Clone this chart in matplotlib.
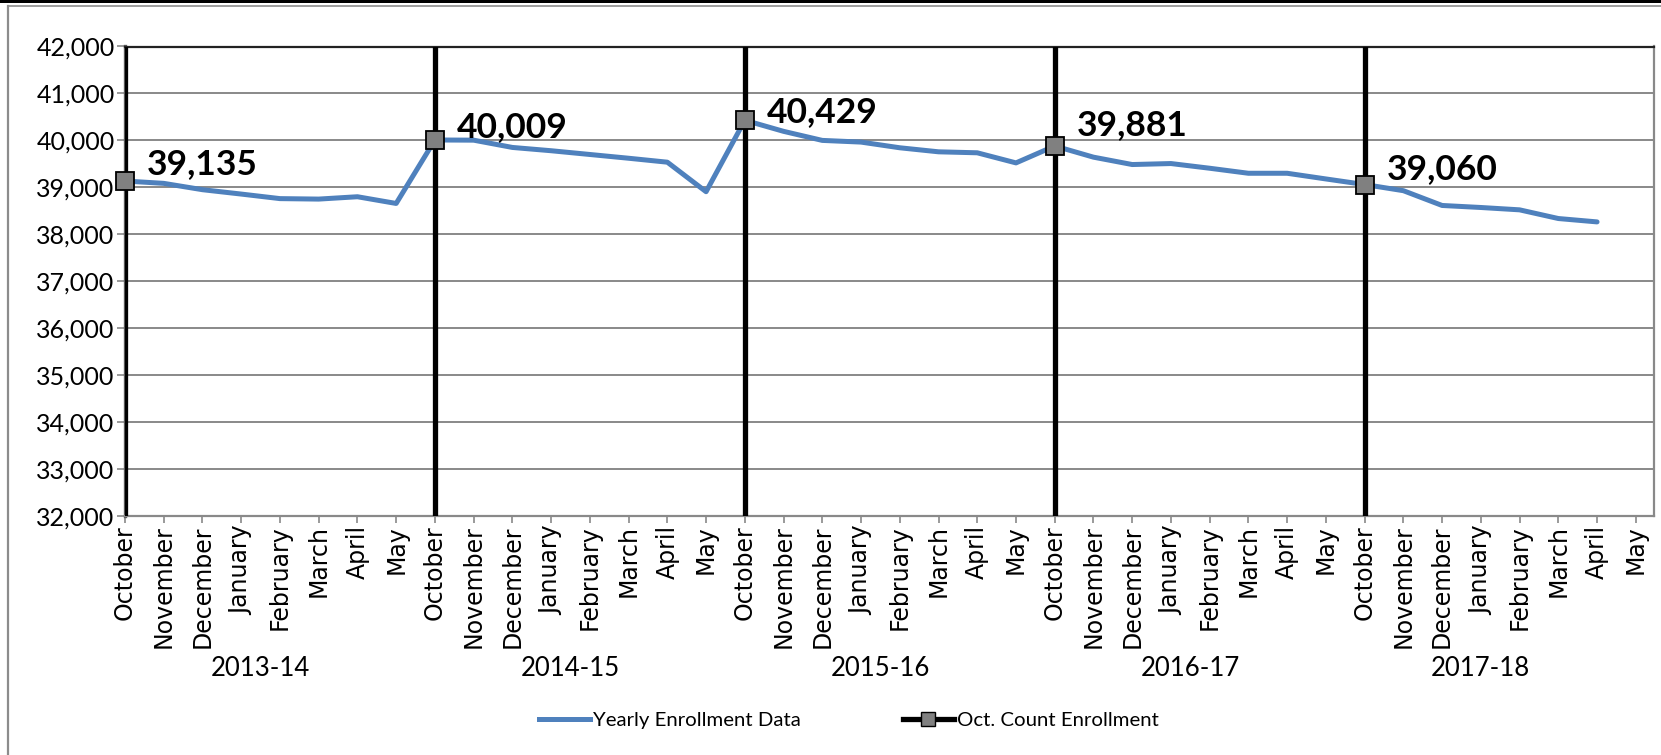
import numpy as np
import matplotlib
matplotlib.use("Agg")
import matplotlib.pyplot as plt
from matplotlib.lines import Line2D
from matplotlib.patches import Rectangle

# ---- data ----
month_names = ["October", "November", "December", "January",
               "February", "March", "April", "May"]
school_years = ["2013-14", "2014-15", "2015-16", "2016-17", "2017-18"]
# months per school-year group on the axis (the last May has no group label)
group_sizes = [8, 8, 8, 8, 7]

yearly_enrollment = [
    39135, 39085, 38950, 38857, 38760, 38750, 38800, 38657,
    40009, 40005, 39850, 39780, 39700, 39620, 39536, 38907,
    40429, 40193, 40000, 39964, 39843, 39757, 39736, 39521,
    39881, 39643, 39486, 39507, 39407, 39300, 39300, 39179,
    39060, 38929, 38614, 38571, 38521, 38336, 38264, np.nan,
]
oct_count = [39135, 40009, 40429, 39881, 39060]

# vertical nudges of the data labels (points), as placed in the original
label_dy = [12, 9, 6, 15, 11]

categories = month_names * len(school_years)
x = np.arange(len(categories))
oct_idx = [i for i, m in enumerate(categories) if m == "October"]

BLUE = "#4F81BD"
GRID = "#898989"
CAL = ["Lato", "DejaVu Sans"]

fig = plt.figure(figsize=(16.61, 7.55), dpi=100)
ax = fig.add_axes([125 / 1661, 239 / 755, 1529 / 1661, 469.5 / 755])

ax.set_ylim(32000, 42000)
ax.set_xlim(0, 39.47)
ax.set_yticks(np.arange(32000, 42001, 1000))
ax.yaxis.grid(True, color=GRID, linewidth=1.4)
ax.set_axisbelow(True)

ax.plot(x, yearly_enrollment, color=BLUE, linewidth=3.6, zorder=3,
        solid_joinstyle="round", solid_capstyle="round")

# October count: heavy vertical rule at each October plus a square marker
ax.vlines(oct_idx, 32000, 42000, color="black", linewidth=3.8, zorder=4)
ax.plot(oct_idx, oct_count, linestyle="none", marker="s", markersize=13,
        markerfacecolor="#808080", markeredgecolor="black",
        markeredgewidth=1.3, zorder=5, clip_on=False)

for xi, v, dy in zip(oct_idx, oct_count, label_dy):
    ax.annotate(f"{v:,}", (xi, v), xytext=(16, dy), textcoords="offset points",
                ha="left", va="center", fontsize=25.5, fontweight="bold",
                family=CAL, zorder=6)

ax.set_xticks(x)
ax.set_xticklabels(categories, rotation=90, fontsize=17, family="DejaVu Sans")
ax.tick_params(axis="x", length=5, width=1.2, color=GRID, pad=1.5)
ax.tick_params(axis="y", length=5.5, width=1.2, color=GRID, pad=2)
for lab in ax.get_yticklabels():
    lab.set_family(CAL)
    lab.set_fontsize(18)
ax.yaxis.set_major_formatter(matplotlib.ticker.StrMethodFormatter("{x:,.0f}"))

# school-year group labels under the month labels
year_y = -(668 - 516) / 469.5
start = 0
for name, n in zip(school_years, group_sizes):
    ax.text(start + (n - 1) / 2, year_y, name, transform=ax.get_xaxis_transform(),
            ha="center", va="center", fontsize=18.5, family=CAL)
    start += n

ax.spines["left"].set_color("#5a5a5a")
ax.spines["left"].set_linewidth(2.4)
ax.spines["top"].set_color("#222222")
ax.spines["top"].set_linewidth(1.6)
ax.spines["right"].set_color(GRID)
ax.spines["right"].set_linewidth(1.6)
ax.spines["bottom"].set_color(GRID)
ax.spines["bottom"].set_linewidth(1.6)

handles = [
    Line2D([], [], color=BLUE, linewidth=3.6),
    Line2D([], [], color="black", linewidth=3.8, marker="s", markersize=10,
           markerfacecolor="#808080", markeredgecolor="black"),
]
fig.legend(handles, ["Yearly Enrollment Data", "Oct. Count Enrollment"],
           loc="center", bbox_to_anchor=(0.511, 0.046), ncol=2, frameon=False,
           prop={"family": CAL, "size": 14.7}, handlelength=2.5,
           handletextpad=0.15, columnspacing=5.0)

# outer chart border, as cropped in the original screenshot
fig.add_artist(Rectangle((0, 1 - 3 / 755), 1, 3 / 755, transform=fig.transFigure,
                         color="black", linewidth=0))
fig.add_artist(Line2D([8 / 1661, 1], [1 - 6 / 755, 1 - 6 / 755],
                      transform=fig.transFigure, color="#8c8c8c", linewidth=1.2))
fig.add_artist(Line2D([8 / 1661, 8 / 1661], [0, 1 - 6 / 755],
                      transform=fig.transFigure, color="#8c8c8c", linewidth=1.6))

fig.savefig("out.png", dpi=100)
